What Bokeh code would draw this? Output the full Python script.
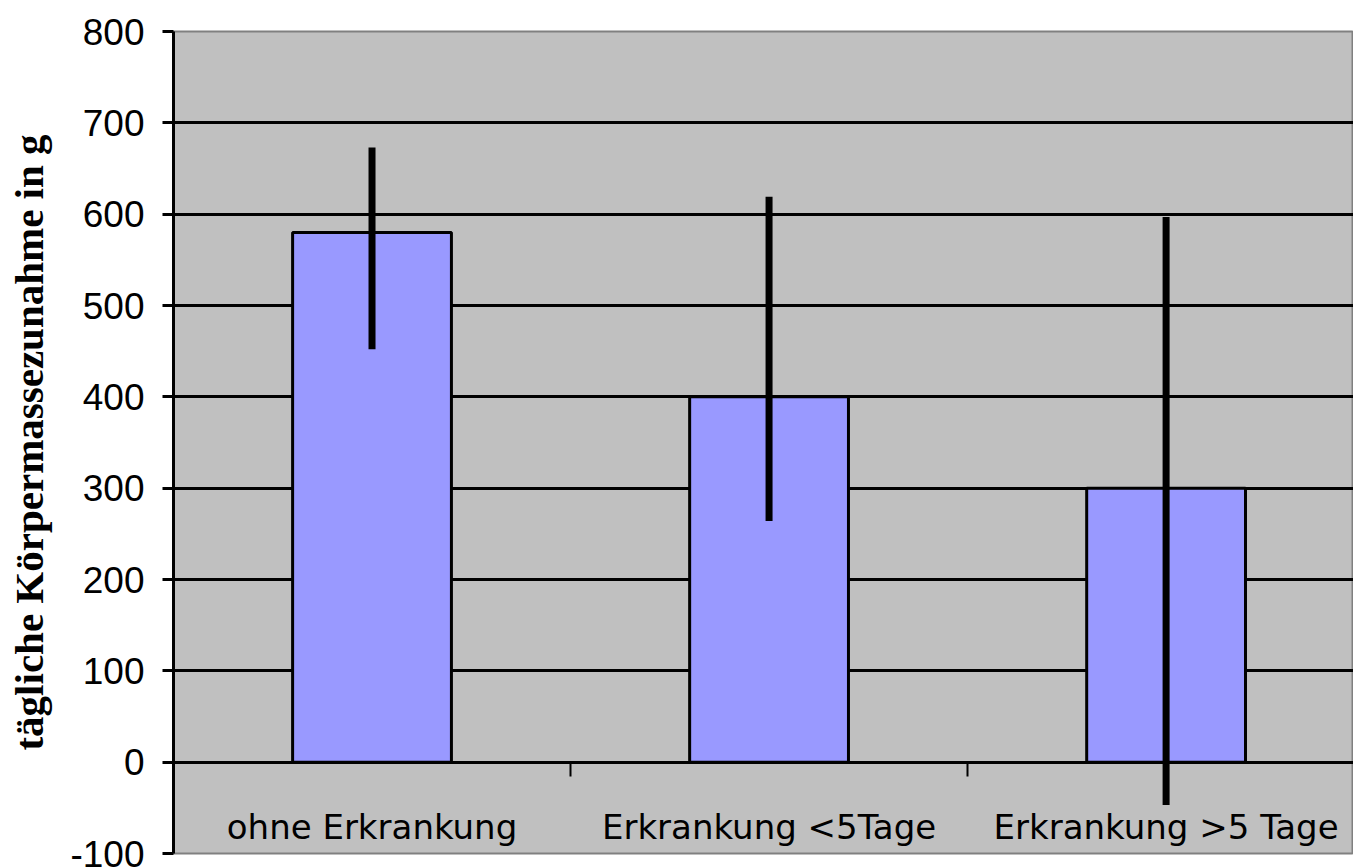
from bokeh.plotting import figure
from bokeh.models import Range1d, FixedTicker, ColumnDataSource
from bokeh.core.properties import value
from bokeh.embed import file_html
from bokeh.resources import INLINE

# ---- data ----
categories = ["ohne Erkrankung", "Erkrankung <5Tage", "Erkrankung >5 Tage"]
means = [580, 400, 300]
err_low = [452, 264, -47]
err_high = [673, 619, 597]
y_ticks = [-100, 0, 100, 200, 300, 400, 500, 600, 700, 800]
y_tick_labels = ["-100", "0", "100", "200", "300", "400", "500", "600", "700", "800"]
grid_ticks = [100, 200, 300, 400, 500, 600, 700]
y_title = "tägliche Körpermassezunahme in g"

x_pos = [i + 0.5 for i in range(len(categories))]
label_y = [-71] * len(categories)
boundaries = [i for i in range(1, len(categories))]

src = ColumnDataSource(dict(x=x_pos, top=means, lo=err_low, hi=err_high,
                            name=categories, ly=label_y))

p = figure(width=1353, height=867,
           x_range=Range1d(0, 2.972), y_range=Range1d(-100, 800),
           output_backend="svg", toolbar_location=None,
           x_axis_location="above",
           min_border_left=173, min_border_right=0,
           min_border_top=31, min_border_bottom=14)

p.background_fill_color = "#C0C0C0"
p.border_fill_color = "white"
p.outline_line_color = "#808080"
p.outline_line_width = 2

# grid
p.xgrid.visible = False
p.ygrid.ticker = FixedTicker(ticks=grid_ticks)
p.ygrid.grid_line_color = "black"
p.ygrid.grid_line_width = 3

# y axis
ya = p.yaxis[0]
ya.ticker = FixedTicker(ticks=y_ticks)
ya.major_label_overrides = {t: s for t, s in zip(y_ticks, y_tick_labels)}
ya.axis_line_width = 3
ya.major_tick_line_width = 3
ya.major_tick_out = 11
ya.major_tick_in = 0
ya.minor_tick_line_color = None
ya.major_label_standoff = 18
ya.major_label_text_font = "Liberation Sans"
ya.major_label_text_font_size = "37px"
ya.major_label_text_color = "black"
ya.axis_label = y_title
ya.axis_label_text_font = "Liberation Serif"
ya.axis_label_text_font_style = "bold"
ya.axis_label_text_font_size = "41px"
ya.axis_label_text_color = "black"
ya.axis_label_standoff = 15

# x axis at y = 0, ticks at category boundaries pointing down
xa = p.xaxis[0]
xa.fixed_location = 0
xa.ticker = FixedTicker(ticks=boundaries)
xa.major_label_overrides = {b: "" for b in boundaries}
xa.axis_line_width = 3
xa.axis_line_color = "black"
xa.major_tick_in = 14
xa.major_tick_out = 0
xa.major_tick_line_width = 2
xa.minor_tick_line_color = None
xa.major_label_text_font_size = "1px"
xa.major_label_standoff = 0

# bars
p.vbar(x="x", top="top", bottom=0, width=0.4, source=src,
       fill_color="#9999FF", line_color="black", line_width=3)

# error bars
p.segment(x0="x", y0="lo", x1="x", y1="hi", source=src,
          line_color="black", line_width=7)

# category labels
p.text(x="x", y="ly", text="name", source=src,
       text_font=value("DejaVu Sans"), text_font_size="34px",
       text_align="center", text_baseline="alphabetic", text_color="black")

open("out.html", "w").write(file_html(p, INLINE))
